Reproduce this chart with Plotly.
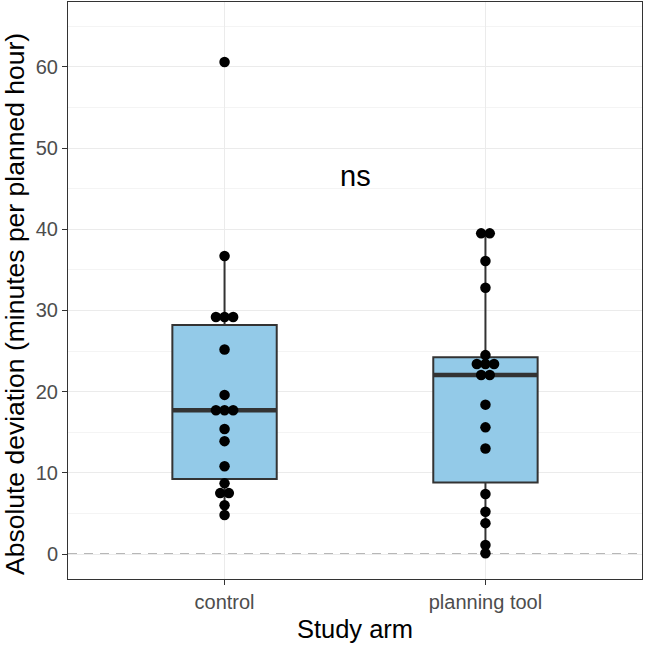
import numpy as np
import plotly.graph_objects as go

# ---- data ----
categories = ["control", "planning tool"]
control_vals = [60.6, 36.7, 29.2, 29.2, 29.2, 25.2, 19.6, 17.7, 17.7, 17.7,
                15.4, 13.9, 10.8, 8.7, 7.5, 7.5, 6.0, 4.8]
planning_vals = [39.5, 39.5, 36.1, 32.8, 24.5, 23.4, 23.4, 23.4, 22.05, 22.05,
                 18.4, 15.6, 13.0, 7.4, 5.2, 3.8, 1.1, 0.1]
y_ticks = [0, 10, 20, 30, 40, 50, 60]
sig_label = "ns"
x_title = "Study arm"
y_title = "Absolute deviation (minutes per planned hour)"

groups = [control_vals, planning_vals]
positions = [1, 2]

BOX_FILL = "#93CAE8"
LINE = "#333333"
FONT = "Liberation Sans, Arial, Helvetica, sans-serif"


def box_stats(vals):
    """ggplot-style box statistics (R type 7 quantiles, 1.5 IQR whiskers)."""
    v = np.sort(np.asarray(vals, dtype=float))
    q1, med, q3 = np.percentile(v, [25, 50, 75])
    iqr = q3 - q1
    lo = v[v >= q1 - 1.5 * iqr].min()
    hi = v[v <= q3 + 1.5 * iqr].max()
    return q1, med, q3, lo, hi


def swarm_offsets(vals, spacing=0.033, tol=0.3):
    """Spread tied (near-equal) values symmetrically around the centre."""
    vals = np.asarray(vals, dtype=float)
    offs = np.zeros(len(vals))
    used = np.zeros(len(vals), dtype=bool)
    for i in range(len(vals)):
        if used[i]:
            continue
        idx = [j for j in range(len(vals)) if not used[j] and abs(vals[j] - vals[i]) < tol]
        n = len(idx)
        for k, j in enumerate(idx):
            offs[j] = (k - (n - 1) / 2) * spacing
            used[j] = True
    return offs


fig = go.Figure()

for pos, vals in zip(positions, groups):
    q1, med, q3, lo, hi = box_stats(vals)
    fig.add_trace(go.Box(
        x=[pos], q1=[q1], median=[med], q3=[q3], lowerfence=[lo], upperfence=[hi],
        width=0.4, boxpoints=False,
        fillcolor=BOX_FILL, line=dict(color=LINE, width=2),
        whiskerwidth=0, showlegend=False, hoverinfo="skip",
    ))
    fig.add_trace(go.Scatter(
        x=[pos - 0.2, pos + 0.2], y=[med, med], mode="lines",
        line=dict(color=LINE, width=4.5), showlegend=False, hoverinfo="skip",
    ))

for pos, vals in zip(positions, groups):
    offs = swarm_offsets(vals)
    fig.add_trace(go.Scatter(
        x=pos + offs, y=vals, mode="markers",
        marker=dict(color="black", size=10.5, line=dict(width=0)),
        showlegend=False,
    ))

fig.add_hline(y=0, line=dict(color="#A0A0A0", width=1.6, dash="9px,7px"), layer="below")

fig.add_annotation(x=1.5, y=46.6, text=sig_label, showarrow=False,
                   font=dict(size=29, color="black", family=FONT),
                   xanchor="center", yanchor="middle")

# y-axis title as a rotated annotation
fig.add_annotation(xref="paper", yref="paper", x=-0.0923, y=0.4766,
                   text=y_title, textangle=-90, showarrow=False,
                   xanchor="center", yanchor="middle",
                   font=dict(size=26.5, color="black", family=FONT))

fig.update_layout(
    width=645, height=646,
    margin=dict(l=68, r=3, t=2, b=67),
    paper_bgcolor="white", plot_bgcolor="white",
    font=dict(family=FONT),
)
fig.update_xaxes(
    range=[0.4, 2.6], tickvals=positions, ticktext=categories,
    showgrid=True, gridcolor="#EBEBEB", gridwidth=1.2, zeroline=False,
    showline=True, linecolor=LINE, linewidth=1, mirror=True,
    ticks="outside", ticklen=5, tickcolor=LINE, tickwidth=1.3,
    tickfont=dict(size=20, color="#4D4D4D", family=FONT),
    title=dict(text=x_title, font=dict(size=25.5, color="black", family=FONT), standoff=8),
)
fig.update_yaxes(
    range=[-3.08, 68.0], tickvals=y_ticks,
    showgrid=True, gridcolor="#EBEBEB", gridwidth=1.2, zeroline=False,
    minor=dict(dtick=5, tick0=5, showgrid=True, gridcolor="#F4F4F4", gridwidth=0.8),
    showline=True, linecolor=LINE, linewidth=1, mirror=True,
    ticks="outside", ticklen=5, tickcolor=LINE, tickwidth=1.3,
    tickfont=dict(size=20, color="#4D4D4D", family=FONT),
)

fig.write_html("out.html")
